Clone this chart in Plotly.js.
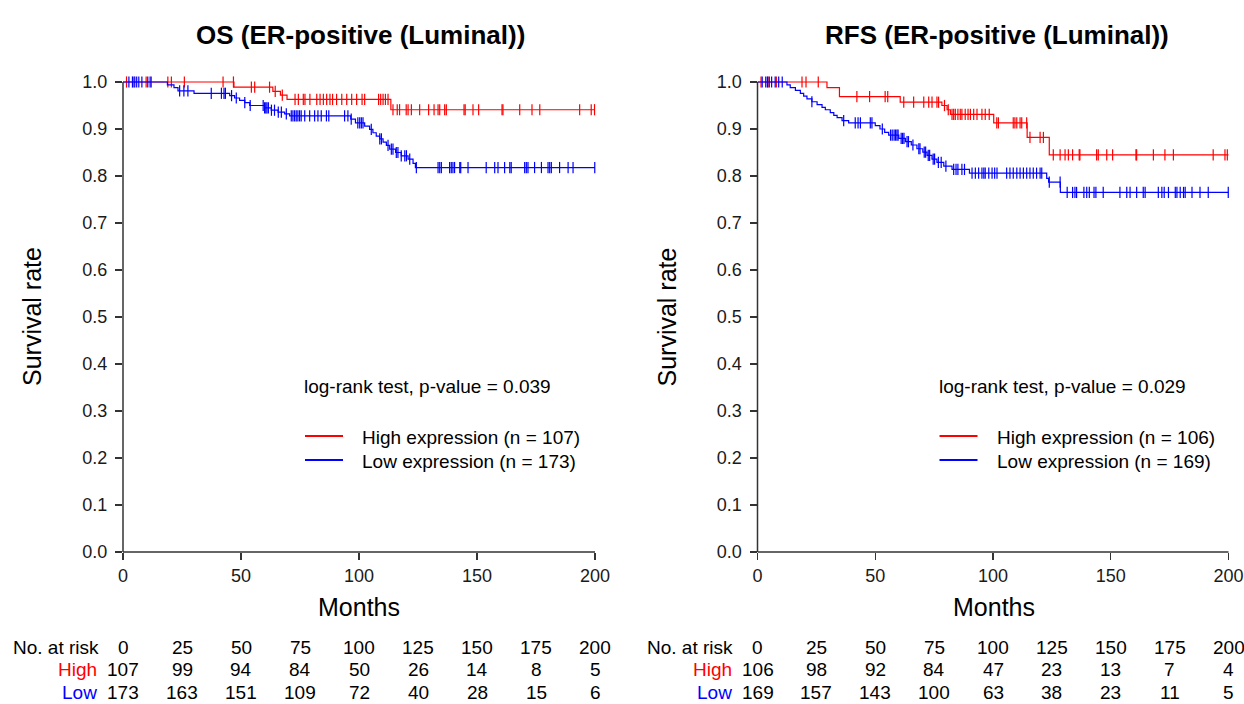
<!DOCTYPE html>
<html>
<head>
<meta charset="utf-8">
<script src="https://cdn.plot.ly/plotly-3.0.1.min.js"></script>
<style>html,body{margin:0;padding:0;background:#fff;}#chart{width:1244px;height:704px;}</style>
</head>
<body>
<div id="chart"></div>
<script>
// ---------- DATA ----------
var riskTimes = [0, 25, 50, 75, 100, 125, 150, 175, 200];
var osHighRisk = [107, 99, 94, 84, 50, 26, 14, 8, 5];
var osLowRisk = [173, 163, 151, 109, 72, 40, 28, 15, 6];
var rfsHighRisk = [106, 98, 92, 84, 47, 23, 13, 7, 4];
var rfsLowRisk = [169, 157, 143, 100, 63, 38, 23, 11, 5];

var xTickVals = [0, 50, 100, 150, 200];
var yTickVals = [0, 0.1, 0.2, 0.3, 0.4, 0.5, 0.6, 0.7, 0.8, 0.9, 1.0];

// OS, high expression
var osHighEventT = [47, 63.5, 66.7, 69.5, 113.5];
var osHighSurv = [0.989, 0.980, 0.972, 0.963, 0.941];
var osHighCensor = [1.5, 4.6, 9.8, 12, 19, 20.5, 26, 42.4, 46.8, 54.4, 55.8, 62.1, 64.5, 67.5, 72.9, 74.3, 76.4, 77.1, 79.2, 82.1, 83.5, 84.9, 86.3, 87.7, 88.8, 90.5, 92.7, 94.8, 96.9, 99.0, 101.3, 102.4, 108.3, 109.2, 110.2, 111.2, 112.3, 114.4, 116.2, 117.2, 120.0, 120.8, 122.2, 125.7, 129.5, 131.8, 133.5, 134.2, 136.3, 137.0, 144.5, 145.0, 148.3, 150.7, 160.6, 161.0, 168.1, 173.3, 176.6, 193.5, 198.4, 199.8];

// OS, low expression
var osLowEventT = [18.8, 21.6, 23.3, 30.1, 45.2, 47.3, 49.4, 51.6, 53.7, 60.0, 62.8, 65.7, 68.5, 70.6, 96.5, 98.5, 102.4, 104.5, 105.9, 107.3, 108.8, 110.2, 111.6, 113.0, 115.5, 117.9, 120.8, 122.9, 123.9];
var osLowSurv = [0.994, 0.988, 0.981, 0.976, 0.971, 0.966, 0.961, 0.956, 0.950, 0.945, 0.940, 0.936, 0.932, 0.928, 0.921, 0.913, 0.906, 0.899, 0.892, 0.885, 0.879, 0.872, 0.865, 0.857, 0.850, 0.843, 0.836, 0.827, 0.818];
var osLowCensor = [2.5, 4, 5, 5.8, 6.7, 8, 10.5, 11.5, 24.0, 25.8, 27.5, 37.4, 41.7, 42.8, 43.4, 46, 48, 51.6, 53.9, 59.4, 60.0, 60.5, 61.0, 61.6, 62.9, 64.2, 65.8, 67.1, 69.2, 71.3, 72.0, 72.7, 73.4, 74.1, 74.8, 75.5, 77.0, 79.1, 81.2, 82.6, 84.0, 86.2, 87.2, 93.9, 95.3, 96.7, 99.5, 100.3, 101.0, 101.7, 105.2, 108.8, 109.5, 112.3, 113.7, 114.4, 115.8, 116.5, 117.9, 119.4, 120.1, 121.5, 124.3, 133.5, 134.2, 134.9, 138.4, 139.1, 139.8, 140.5, 142.7, 143.1, 146.2, 153.9, 157.5, 158.9, 161.7, 163.9, 164.5, 170.2, 170.9, 171.6, 174.4, 177.3, 180.1, 180.8, 181.5, 185.0, 188.6, 190.7, 199.9];

// RFS, high expression
var rfsHighEventT = [29.5, 34.8, 60.6, 78.3, 80.5, 81.9, 100.3, 114.5, 123.9];
var rfsHighSurv = [0.988, 0.969, 0.957, 0.950, 0.941, 0.931, 0.913, 0.882, 0.845];
var rfsHighCensor = [1.5, 4.5, 8, 18.9, 20.6, 25.8, 42.2, 47.6, 54.2, 55.3, 62.1, 66.3, 70.6, 72.7, 74.1, 76.2, 76.9, 79.4, 81.0, 82.6, 83.3, 84.0, 85.1, 86.1, 86.8, 88.2, 89.4, 90.4, 91.8, 93.2, 95.3, 96.7, 98.4, 101.6, 102.3, 108.6, 109.3, 110.1, 111.5, 112.2, 114.3, 115.7, 120.0, 121.4, 125.6, 128.5, 130.6, 132.0, 133.8, 136.6, 136.9, 144.0, 144.7, 148.3, 150.8, 160.7, 161.0, 168.1, 173.0, 176.6, 193.5, 198.5, 199.5];

// RFS, low expression
var rfsLowEventT = [12.5, 13.9, 16.1, 18.2, 19.6, 21.0, 23.1, 25.3, 27.4, 28.8, 30.9, 32.4, 33.8, 35.9, 38.7, 50.0, 52.0, 54.0, 55.7, 60.0, 62.8, 65.3, 67.7, 70.2, 72.0, 74.1, 76.2, 79.1, 82.6, 90.0, 122.8, 123.6, 128.6];
var rfsLowSurv = [0.994, 0.988, 0.982, 0.976, 0.970, 0.964, 0.958, 0.952, 0.946, 0.941, 0.935, 0.929, 0.924, 0.918, 0.913, 0.907, 0.900, 0.893, 0.887, 0.880, 0.873, 0.866, 0.858, 0.851, 0.844, 0.836, 0.829, 0.821, 0.814, 0.806, 0.795, 0.787, 0.765];
var rfsLowCensor = [2, 3.5, 4.2, 5, 6, 7.5, 9, 10.5, 23.1, 36.6, 41.5, 42.7, 43.7, 47.9, 48.6, 53.0, 56.5, 57.2, 58.0, 58.6, 59.2, 59.7, 61.0, 61.6, 62.2, 63.5, 64.1, 66.0, 68.5, 69.0, 70.8, 71.4, 72.5, 73.1, 74.6, 75.2, 76.8, 78.0, 80.0, 83.3, 84.3, 85.1, 86.8, 87.9, 91.1, 92.5, 93.9, 95.3, 96.1, 96.7, 98.2, 99.6, 100.7, 101.7, 105.8, 107.2, 108.6, 110.1, 111.5, 112.9, 114.3, 115.7, 117.1, 118.5, 120.0, 120.7, 123.9, 128.5, 131.5, 133.8, 134.8, 135.5, 138.6, 139.8, 140.9, 142.9, 143.7, 146.8, 153.9, 156.8, 158.2, 161.0, 163.8, 164.6, 170.2, 171.7, 172.7, 174.5, 177.4, 178.1, 179.5, 180.9, 181.6, 184.5, 187.9, 191.4, 199.9];

var titles = ['OS (ER-positive (Luminal))', 'RFS (ER-positive (Luminal))'];
var pTexts = ['log-rank test, p-value = 0.039', 'log-rank test, p-value = 0.029'];
var legendHigh = ['High expression (n = 107)', 'High expression (n = 106)'];
var legendLow = ['Low expression (n = 173)', 'Low expression (n = 169)'];

// ---------- LAYOUT HELPERS ----------
var W = 1244, H = 704;
var FONT = 'Liberation Sans, Arial, Helvetica, sans-serif';
var RED = '#ff0000', BLUE = '#0000ff';
function px(v) { return v / W; }
function py(v) { return 1 - v / H; }

var panels = [
  { x0: 123, x1: 123 + 203 * 2.36, xa: 'x', ya: 'y' },
  { x0: 757.5, x1: 757.5 + 203 * 2.355, xa: 'x2', ya: 'y2' }
];
var yBottom = 552, yTop = 552 - 1.01 * 470;

function stepCurve(tEvents, surv, tEnd) {
  var x = [0], y = [1];
  for (var i = 0; i < tEvents.length; i++) { x.push(tEvents[i]); y.push(surv[i]); }
  x.push(tEnd); y.push(surv[surv.length - 1]);
  return { x: x, y: y };
}
function survAt(tEvents, surv, t) {
  var s = 1;
  for (var i = 0; i < tEvents.length; i++) { if (tEvents[i] <= t) s = surv[i]; }
  return s;
}

var traces = [];
function addGroup(tE, sv, cens, color, xa, ya) {
  var c = stepCurve(tE, sv, 200);
  traces.push({ x: c.x, y: c.y, xaxis: xa, yaxis: ya, type: 'scatter', mode: 'lines',
    line: { shape: 'hv', color: color, width: 1.2 }, showlegend: false, hoverinfo: 'skip' });
  traces.push({ x: cens, y: cens.map(function (t) { return survAt(tE, sv, t); }),
    xaxis: xa, yaxis: ya, type: 'scatter', mode: 'markers', cliponaxis: false,
    marker: { symbol: 'line-ns-open', size: 8, color: color, line: { color: color, width: 1.2 } },
    showlegend: false, hoverinfo: 'skip' });
}
addGroup(osHighEventT, osHighSurv, osHighCensor, RED, 'x', 'y');
addGroup(osLowEventT, osLowSurv, osLowCensor, BLUE, 'x', 'y');
addGroup(rfsHighEventT, rfsHighSurv, rfsHighCensor, RED, 'x2', 'y2');
addGroup(rfsLowEventT, rfsLowSurv, rfsLowCensor, BLUE, 'x2', 'y2');

function xAxis(p, anchor) {
  return { domain: [px(p.x0), px(p.x1)], range: [0, 203], anchor: anchor,
    tickvals: xTickVals, ticktext: xTickVals.map(String), ticks: 'outside', ticklen: 7, tickwidth: 1.3,
    tickcolor: '#333', showline: false, showgrid: false, zeroline: false,
    tickfont: { family: FONT, size: 18, color: '#1a1a1a' }, fixedrange: true };
}
function yAxis(anchor) {
  return { domain: [py(yBottom), py(yTop)], range: [0, 1.01], anchor: anchor,
    tickvals: yTickVals, ticktext: yTickVals.map(function (v) { return v.toFixed(1); }),
    ticks: 'outside', ticklen: 7, tickwidth: 1.3, tickcolor: '#333', showline: false,
    showgrid: false, zeroline: false, ticklabelstandoff: 4,
    tickfont: { family: FONT, size: 18, color: '#1a1a1a' }, fixedrange: true };
}

var shapes = [], annotations = [];
var riskSets = [[osHighRisk, osLowRisk], [rfsHighRisk, rfsLowRisk]];
panels.forEach(function (p, k) {
  var off = p.x0 - 123;
  // axis lines
  shapes.push({ type: 'line', xref: 'paper', yref: p.ya, x0: px(p.x0), x1: px(p.x0), y0: 0, y1: 1,
    line: { color: '#333', width: 1.5 } });
  shapes.push({ type: 'line', xref: p.xa, yref: 'paper', x0: 0, x1: 200, y0: py(yBottom), y1: py(yBottom),
    line: { color: '#333', width: 1.5 } });
  // legend lines
  shapes.push({ type: 'line', xref: 'paper', yref: 'paper', x0: px(305 + off), x1: px(343 + off),
    y0: py(436), y1: py(436), line: { color: RED, width: 2 } });
  shapes.push({ type: 'line', xref: 'paper', yref: 'paper', x0: px(305 + off), x1: px(343 + off),
    y0: py(460), y1: py(460), line: { color: BLUE, width: 2 } });

  var cx = (p.x0 + 123 + 2.36 * 200 + off) / 2;
  annotations.push({ text: '<b>' + titles[k] + '</b>', xref: 'paper', yref: 'paper', x: px(360 + off + (k ? 2 : 0)),
    y: py(35), xanchor: 'center', yanchor: 'middle', showarrow: false,
    font: { family: FONT, size: 26, color: '#000' } });
  annotations.push({ text: 'Survival rate', xref: 'paper', yref: 'paper', x: px(32 + off), y: py(317),
    xanchor: 'center', yanchor: 'middle', textangle: -90, showarrow: false,
    font: { family: FONT, size: 25, color: '#000' } });
  annotations.push({ text: 'Months', xref: 'paper', yref: 'paper', x: px(359 + off), y: py(607),
    xanchor: 'center', yanchor: 'middle', showarrow: false,
    font: { family: FONT, size: 25, color: '#000' } });
  annotations.push({ text: pTexts[k], xref: 'paper', yref: 'paper', x: px(302 + off), y: py(386),
    xanchor: 'left', yanchor: 'middle', showarrow: false,
    font: { family: FONT, size: 19, color: '#000' } });
  annotations.push({ text: legendHigh[k], xref: 'paper', yref: 'paper', x: px(360 + off), y: py(437),
    xanchor: 'left', yanchor: 'middle', showarrow: false,
    font: { family: FONT, size: 19, color: '#000' } });
  annotations.push({ text: legendLow[k], xref: 'paper', yref: 'paper', x: px(360 + off), y: py(461),
    xanchor: 'left', yanchor: 'middle', showarrow: false,
    font: { family: FONT, size: 19, color: '#000' } });
  // risk table
  annotations.push({ text: 'No. at risk', xref: 'paper', yref: 'paper', x: px(11 + off), y: py(647),
    xanchor: 'left', yanchor: 'middle', showarrow: false, font: { family: FONT, size: 19, color: '#000' } });
  annotations.push({ text: 'High', xref: 'paper', yref: 'paper', x: px(99 + off), y: py(669),
    xanchor: 'right', yanchor: 'middle', showarrow: false, font: { family: FONT, size: 19, color: RED } });
  annotations.push({ text: 'Low', xref: 'paper', yref: 'paper', x: px(99 + off), y: py(692),
    xanchor: 'right', yanchor: 'middle', showarrow: false, font: { family: FONT, size: 19, color: BLUE } });
  riskTimes.forEach(function (t, i) {
    annotations.push({ text: String(t), xref: p.xa, yref: 'paper', x: t, y: py(647),
      xanchor: 'center', yanchor: 'middle', showarrow: false, font: { family: FONT, size: 19, color: '#000' } });
    annotations.push({ text: String(riskSets[k][0][i]), xref: p.xa, yref: 'paper', x: t, y: py(669),
      xanchor: 'center', yanchor: 'middle', showarrow: false, font: { family: FONT, size: 19, color: '#000' } });
    annotations.push({ text: String(riskSets[k][1][i]), xref: p.xa, yref: 'paper', x: t, y: py(692),
      xanchor: 'center', yanchor: 'middle', showarrow: false, font: { family: FONT, size: 19, color: '#000' } });
  });
});

var layout = {
  width: W, height: H, autosize: false,
  margin: { l: 0, r: 0, t: 0, b: 0, pad: 0 },
  paper_bgcolor: '#fff', plot_bgcolor: '#fff',
  showlegend: false,
  xaxis: xAxis(panels[0], 'y'), yaxis: yAxis('x'),
  xaxis2: xAxis(panels[1], 'y2'), yaxis2: yAxis('x2'),
  shapes: shapes, annotations: annotations,
  font: { family: FONT }
};
Plotly.newPlot('chart', traces, layout, { displayModeBar: false, staticPlot: true });
</script>
</body>
</html>
